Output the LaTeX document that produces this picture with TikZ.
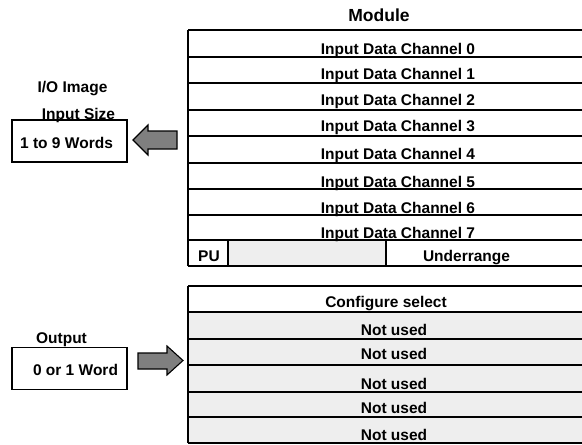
\documentclass[tikz,border=0pt]{standalone}
\usepackage{fontspec}
\setmainfont{Liberation Sans}
\usepackage{tikz}
\usetikzlibrary{calc,positioning}
\definecolor{cellGrey}{HTML}{EEEEEE}
\definecolor{arrowGrey}{HTML}{7F7F7F}

\begin{document}
\begin{tikzpicture}[x=1pt,y=-1pt,
        txt/.style={font=\fontsize{15.5}{18}\selectfont\bfseries,text height=11.1pt,text depth=0pt,inner sep=0pt},
        grid/.style={line width=1.6pt},
        wordbox/.style={draw,line width=1.3pt,minimum width=115pt,minimum height=42pt,inner sep=0pt}]
        \useasboundingbox (0,0) rectangle (582,445);
        \clip (0,0) rectangle (582,445);

        \coordinate (cInTopPt) at (188,30);
        \coordinate (cInBotPt) at (188,266);
        \coordinate (cOutTopPt) at (188,286);
        \coordinate (cOutBotPt) at (188,443);
        \coordinate (cPUPt) at (228,240);
        \coordinate (cUnderPt) at (386,266);

        % input table
        \fill[cellGrey] (cPUPt) rectangle (cUnderPt);
        \draw[grid] (188,30) -- (600,30);
        \draw[grid] (188,57) -- (600,57);
        \draw[grid] (188,83) -- (600,83);
        \draw[grid] (188,110) -- (600,110);
        \draw[grid] (188,136) -- (600,136);
        \draw[grid] (188,163) -- (600,163);
        \draw[grid] (188,189) -- (600,189);
        \draw[grid] (188,215) -- (600,215);
        \draw[grid] (188,240) -- (600,240);
        \draw[grid] (188,266) -- (600,266);
        \draw[grid] (cInTopPt) -- (cInBotPt);
        \draw[grid] (cPUPt) -- (228,266);
        \draw[grid] (386,240) -- (cUnderPt);

        \node[txt,font=\fontsize{17.5}{20}\selectfont\bfseries,text height=12.5pt] (nModule) at (379,15.5) {Module};
        \node[txt] (nChan0) at (398,49) {Input Data Channel 0};
        \node[txt] (nChan1) at (398,74) {Input Data Channel 1};
        \node[txt] (nChan2) at (398,100) {Input Data Channel 2};
        \node[txt] (nChan3) at (398,125.5) {Input Data Channel 3};
        \node[txt] (nChan4) at (398,153.5) {Input Data Channel 4};
        \node[txt] (nChan5) at (398,181.5) {Input Data Channel 5};
        \node[txt] (nChan6) at (398,207.5) {Input Data Channel 6};
        \node[txt] (nChan7) at (398,232.5) {Input Data Channel 7};
        \node[txt] (nPU) at (209,256) {PU};
        \node[txt] (nUnder) at (466.5,256) {Underrange};

        % output table
        \fill[cellGrey] (188,312) rectangle (600,443);
        \draw[grid] (188,286) -- (600,286);
        \draw[grid] (188,312) -- (600,312);
        \draw[grid] (188,339) -- (600,339);
        \draw[grid] (188,365) -- (600,365);
        \draw[grid] (188,392) -- (600,392);
        \draw[grid] (188,417) -- (600,417);
        \draw[grid] (188,443) -- (600,443);
        \draw[grid] (cOutTopPt) -- (cOutBotPt);

        \node[txt] (nConfig) at (386,302) {Configure select};
        \node[txt] (nUnused1) at (394,330) {Not used};
        \node[txt] (nUnused2) at (394,354) {Not used};
        \node[txt] (nUnused3) at (394,383.5) {Not used};
        \node[txt] (nUnused4) at (394,408) {Not used};
        \node[txt] (nUnused5) at (394,434.5) {Not used};

        % I/O image side
        \node[txt] (nImage) at (72.5,86.5) {I/O Image};
        \node[txt] (nInSize) at (78.5,113.5) {Input Size};
        \node[wordbox] (nInBox) at (69.5,141) {};
        \node[txt] (nInWords) at (66.5,142.5) {1 to 9 Words};
        \node[txt] (nOutput) at (61.5,337.5) {Output};
        \node[wordbox] (nOutBox) at (69.5,368.5) {};
        \node[txt] (nOutWords) at (75.5,369.5) {0 or 1 Word};

        \draw[line width=1.1pt,fill=arrowGrey,line join=miter] (133,140) -- (148,125) -- (148,131) -- (177,131)
            -- (177,149) -- (148,149) -- (148,155) -- cycle;
        \draw[line width=1.1pt,fill=arrowGrey,line join=miter] (183,360.5) -- (167,346) -- (167,353) -- (138,353)
            -- (138,369) -- (167,369) -- (167,375) -- cycle;
        
\end{tikzpicture}
\end{document}
